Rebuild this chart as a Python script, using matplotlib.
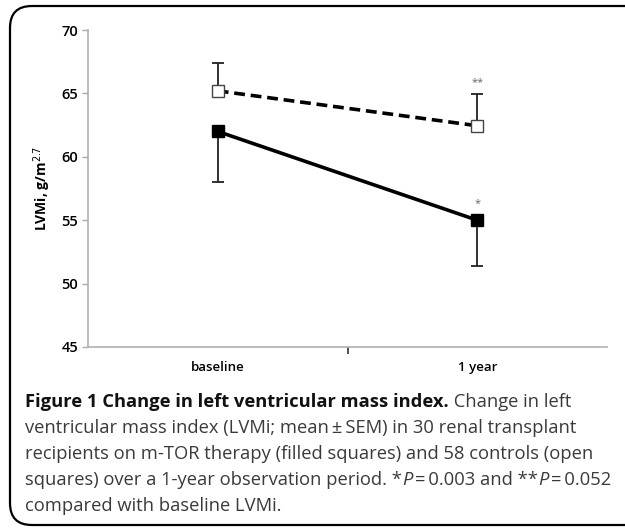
import matplotlib
matplotlib.use("Agg")
import matplotlib.pyplot as plt
from matplotlib.patches import FancyBboxPatch

categories = ["baseline", "1 year"]
mtor_mean = [62.0, 55.0]
mtor_sem = [4.0, 3.6]
ctrl_mean = [65.2, 62.45]
ctrl_sem = [2.2, 2.5]
yticks = [45, 50, 55, 60, 65, 70]

W, H = 625, 528
fig = plt.figure(figsize=(W / 100, H / 100), dpi=100)
fig.patch.set_facecolor("white")
fam = ["Open Sans", "DejaVu Sans"]

# border box
box = FancyBboxPatch((10 / W, 3 / H), 640 / W, 519 / H,
                     boxstyle="round,pad=0,rounding_size=0.035",
                     transform=fig.transFigure, facecolor="none",
                     edgecolor="black", linewidth=1.6, clip_on=False,
                     mutation_aspect=W / H)
fig.patches.append(box)

ax = fig.add_axes([88 / W, 1 - 347 / H, (607 - 88) / W, (347 - 30) / H])
x = [0, 1]

# control (open squares, dashed) - error up
ax.errorbar(x, ctrl_mean, yerr=[[0, 0], ctrl_sem], fmt="none",
            ecolor="#222222", elinewidth=1.3, capsize=4, capthick=1.3, zorder=2)
ax.plot(x, ctrl_mean, linestyle=(0, (3, 1.6)), color="black", linewidth=2.6,
        marker="s", markersize=8, markerfacecolor="white",
        markeredgecolor="#444444", markeredgewidth=1.0, zorder=3)

# m-TOR (filled squares, solid) - error down
ax.errorbar(x, mtor_mean, yerr=[mtor_sem, [0, 0]], fmt="none",
            ecolor="#222222", elinewidth=1.3, capsize=4, capthick=1.3, zorder=2)
ax.plot(x, mtor_mean, linestyle="-", color="black", linewidth=2.6,
        marker="s", markersize=8, markerfacecolor="black",
        markeredgecolor="black", zorder=3)

ax.text(1, ctrl_mean[1] + ctrl_sem[1] + 0.45, "**", ha="center", va="bottom",
        fontsize=8, color="#666666", family=fam)
ax.text(1, mtor_mean[1] + 0.9, "*", ha="center", va="bottom",
        fontsize=8, color="#666666", family=fam)

ax.set_xlim(-0.5, 1.5)
ax.set_ylim(45, 70)
ax.set_yticks(yticks)
ax.set_yticklabels([str(t) for t in yticks], fontsize=10.5, fontweight="semibold",
                   family=fam)
ax.set_xticks([0.5])
ax.set_xticklabels([""])
ax.tick_params(axis="x", direction="out", length=5, width=1.2, color="#333333")
ax.tick_params(axis="y", direction="out", length=4, width=1, color="#aaaaaa", pad=3)
for s in ["top", "right"]:
    ax.spines[s].set_visible(False)
for s in ["left", "bottom"]:
    ax.spines[s].set_color("#b0b0b0")
    ax.spines[s].set_linewidth(1.2)
for xi, c in zip(x, categories):
    ax.text(xi, -0.065, c, transform=ax.get_xaxis_transform(), ha="center",
            va="center", fontsize=9.5, fontweight="semibold", family=fam)
ax.set_ylabel("LVMi, g/m$^{2.7}$", fontsize=10, fontweight="bold",
              family=fam, labelpad=6)

# caption
cap_fs = 13.2
x0 = 25 / W
baselines = [407, 433, 459, 485, 511]


def chain(parts, ypx):
    last = None
    for txt, kw in parts:
        kw = dict(kw)
        col = kw.pop("color", "#3a3a3a")
        if last is None:
            last = ax.annotate(txt, xy=(x0, 1 - ypx / H), xycoords="figure fraction",
                               ha="left", va="baseline", fontsize=cap_fs,
                               family=fam, color=col, annotation_clip=False, **kw)
        else:
            last = ax.annotate(txt, xy=(1, 0), xycoords=last,
                               ha="left", va="bottom", fontsize=cap_fs,
                               family=fam, color=col, annotation_clip=False, **kw)
    return last


B = {"fontweight": "bold", "color": "#111111"}
R = {}
I = {"style": "italic"}
chain([("Figure 1 Change in left ventricular mass index.", B),
       (" Change in left", R)], baselines[0])
chain([("ventricular mass index (LVMi; mean\u2009\u00b1\u2009SEM) in 30 renal transplant", R)],
      baselines[1])
chain([("recipients on m-TOR therapy (filled squares) and 58 controls (open", R)],
      baselines[2])
chain([("squares) over a 1-year observation period. *", R), ("P", I),
       ("\u2009=\u20090.003 and **", R), ("P", I), ("\u2009=\u20090.052", R)],
      baselines[3])
chain([("compared with baseline LVMi.", R)], baselines[4])

fig.savefig("out.png", dpi=100, facecolor="white")
